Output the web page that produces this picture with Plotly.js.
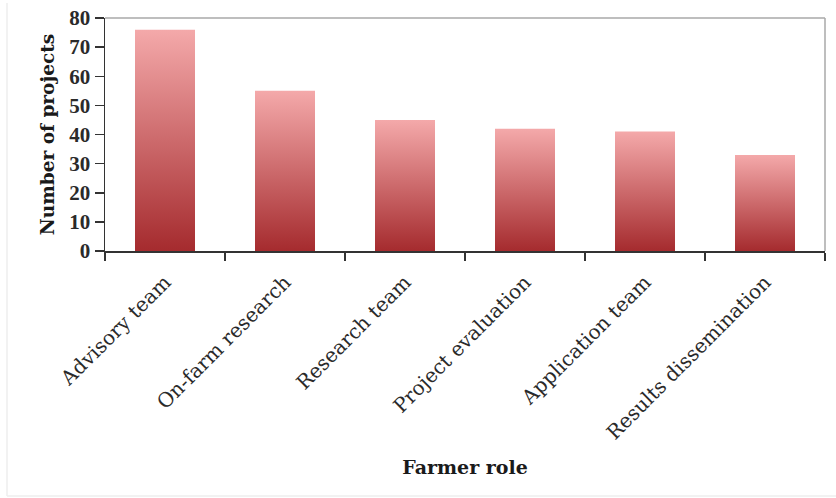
<!DOCTYPE html>
<html>
<head>
<meta charset="utf-8">
<script src="https://cdn.plot.ly/plotly-3.0.1.min.js"></script>
<style>
html,body{margin:0;padding:0;background:#fff;}
#chart{width:836px;height:498px;}
</style>
</head>
<body>
<div id="chart"></div>
<script>
const categories = ["Advisory team", "On-farm research", "Research team", "Project evaluation", "Application team", "Results dissemination"];
const projectCounts = [76, 55, 45, 42, 41, 33];
const yTickValues = [0, 10, 20, 30, 40, 50, 60, 70, 80];

const gradTop = "#f4a9aa";
const gradBottom = "#a52b2e";

const L = 105, R = 11, T = 18, B = 247, W = 836, H = 498;
const pw = W - L - R, ph = H - T - B;
const px = v => (v - L) / pw;
const py = v => (H - B - v) / ph;

const trace = {
  type: "bar",
  x: categories,
  y: projectCounts,
  marker: {color: "#cf6466", line: {width: 0}},
  hoverinfo: "x+y"
};

const layout = {
  width: W, height: H,
  margin: {l: L, r: R, t: T, b: B},
  paper_bgcolor: "#ffffff",
  plot_bgcolor: "#ffffff",
  showlegend: false,
  bargap: 0.5,
  xaxis: {
    type: "category",
    tickson: "boundaries",
    ticks: "outside",
    ticklen: 8,
    tickwidth: 1.5,
    tickcolor: "#333",
    showline: true,
    linecolor: "#333",
    linewidth: 1.5,
    showgrid: false,
    tickangle: -45,
    ticklabelstandoff: 10,
    tickfont: {family: "DejaVu Serif", size: 20, color: "#2a2a2a"},
    title: {text: "Farmer role", font: {family: "DejaVu Serif", size: 19, color: "#1a1a1a", weight: "bold"}, standoff: 17},
    automargin: false
  },
  yaxis: {
    range: [0, 80],
    tickvals: yTickValues,
    ticks: "outside",
    ticklen: 9,
    tickwidth: 1.5,
    tickcolor: "#333",
    showline: true,
    linecolor: "#333",
    linewidth: 1.5,
    showgrid: false,
    zeroline: false,
    tickfont: {family: "Liberation Serif", size: 21, color: "#2a2a2a", weight: "bold"},
    title: {text: "Number of projects", font: {family: "DejaVu Serif", size: 18.5, color: "#1a1a1a", weight: "bold"}, standoff: 10},
    automargin: false
  },
  shapes: [
    {type: "line", xref: "paper", yref: "paper", x0: 0, x1: 1, y0: 1, y1: 1, line: {color: "#a8a8a8", width: 1.5}},
    {type: "line", xref: "paper", yref: "paper", x0: 1, x1: 1, y0: 0, y1: 1, line: {color: "#a8a8a8", width: 1.5}},
    {type: "line", xref: "paper", yref: "paper", x0: px(7), x1: px(7), y0: py(496), y1: py(3), line: {color: "#eeeeee", width: 1.5}, layer: "below"},
    {type: "line", xref: "paper", yref: "paper", x0: px(7), x1: px(836), y0: py(496), y1: py(496), line: {color: "#eeeeee", width: 1.5}, layer: "below"}
  ]
};

Plotly.newPlot("chart", [trace], layout, {displayModeBar: false, staticPlot: true}).then(gd => {
  const svg = gd.querySelector("svg.main-svg");
  const ns = "http://www.w3.org/2000/svg";
  let defs = svg.querySelector("defs");
  if (!defs) { defs = document.createElementNS(ns, "defs"); svg.insertBefore(defs, svg.firstChild); }
  const lg = document.createElementNS(ns, "linearGradient");
  lg.setAttribute("id", "barGrad");
  lg.setAttribute("x1", "0"); lg.setAttribute("y1", "0");
  lg.setAttribute("x2", "0"); lg.setAttribute("y2", "1");
  const s1 = document.createElementNS(ns, "stop");
  s1.setAttribute("offset", "0"); s1.setAttribute("stop-color", gradTop);
  const s2 = document.createElementNS(ns, "stop");
  s2.setAttribute("offset", "1"); s2.setAttribute("stop-color", gradBottom);
  lg.appendChild(s1); lg.appendChild(s2);
  defs.appendChild(lg);
  gd.querySelectorAll(".trace.bars .point path").forEach(p => {
    p.style.fill = "url(#barGrad)";
  });
});
</script>
</body>
</html>
